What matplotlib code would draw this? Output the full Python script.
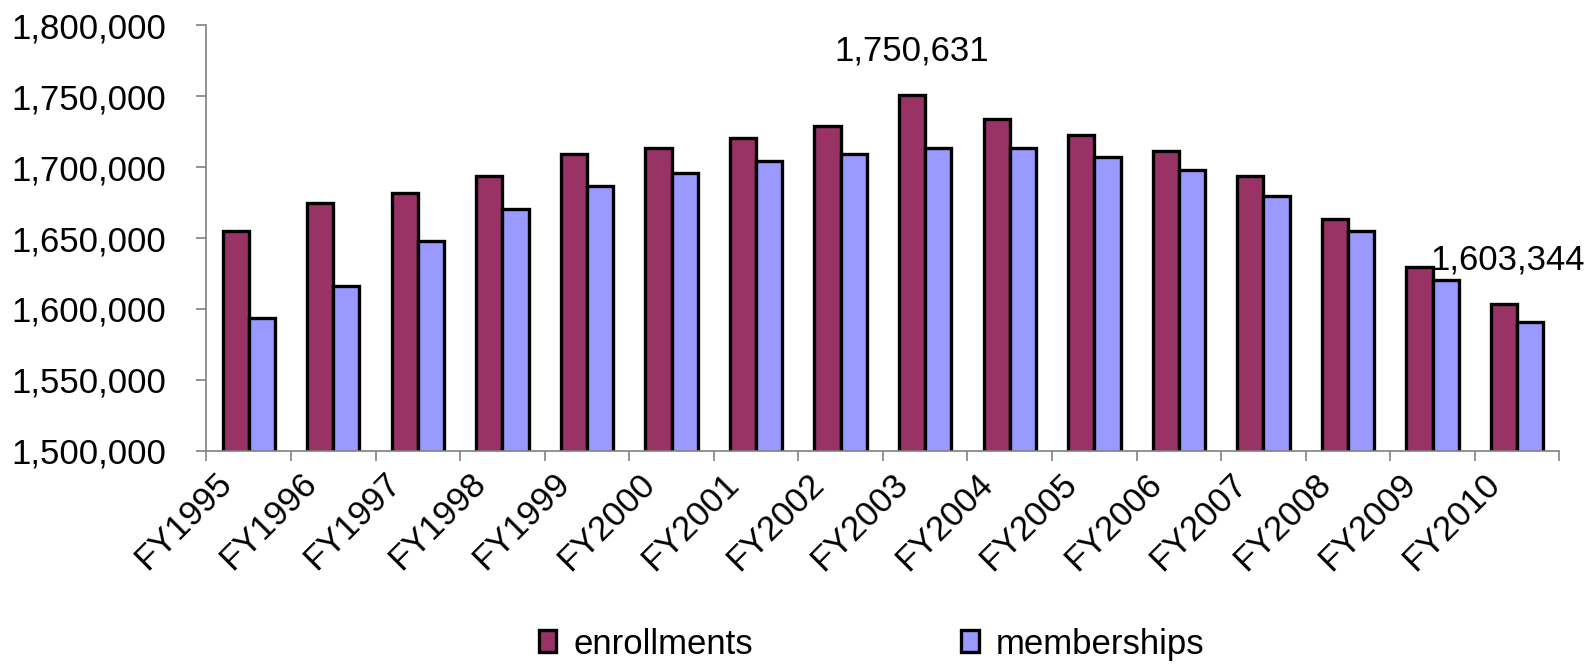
import matplotlib
matplotlib.use('Agg')
import matplotlib.pyplot as plt
import matplotlib.transforms as mtransforms
from matplotlib.ticker import FuncFormatter, MultipleLocator
import numpy as np

plt.rcParams['font.family'] = ['Liberation Sans', 'DejaVu Sans']

years = ['FY1995', 'FY1996', 'FY1997', 'FY1998', 'FY1999', 'FY2000', 'FY2001', 'FY2002',
         'FY2003', 'FY2004', 'FY2005', 'FY2006', 'FY2007', 'FY2008', 'FY2009', 'FY2010']
enrollments = [1654700, 1675000, 1681600, 1693400, 1709000, 1713700, 1720800, 1729300,
               1750631, 1734000, 1722400, 1711600, 1693400, 1663700, 1629900, 1603344]
memberships = [1593400, 1616000, 1647900, 1670300, 1686500, 1695500, 1704300, 1709000,
               1713700, 1713700, 1706800, 1697900, 1679700, 1654700, 1620100, 1591000]
labelled = ['FY2003', 'FY2010']

fig = plt.figure(figsize=(15.88, 6.64), dpi=100)
ax = fig.add_axes([0.130, 0.321, 0.852, 0.641])

x = np.arange(len(years))
w = 0.31
b1 = ax.bar(x - w / 2, enrollments, w, color='#993366', edgecolor='black',
            linewidth=2.4, label='enrollments')
b2 = ax.bar(x + w / 2, memberships, w, color='#9999FF', edgecolor='black',
            linewidth=2.4, label='memberships')

for name in labelled:
    i = years.index(name)
    ax.annotate(f'{enrollments[i]:,}', xy=(x[i] - w / 2, enrollments[i]),
                xytext=(4 if i == len(years) - 1 else 0, 44), textcoords='offset pixels',
                ha='center', va='center', fontsize=25, annotation_clip=False)

ax.set_ylim(1500000, 1800000)
ax.set_xlim(-0.5, len(years) - 0.5)
ax.yaxis.set_major_locator(MultipleLocator(50000))
ax.yaxis.set_major_formatter(FuncFormatter(lambda v, p: f'{int(v):,}'))

# tick marks between categories, labels at the centres
ax.set_xticks(np.arange(len(years) + 1) - 0.5)
ax.set_xticklabels([])
ax.set_xticks(x, minor=True)
ax.set_xticklabels(years, minor=True, rotation=45, ha='right', va='center',
                   rotation_mode='anchor', fontsize=25)
ax.tick_params(axis='x', which='minor', length=0, pad=20)
ax.tick_params(axis='x', which='major', length=7, width=1.2, color='#808080')
ax.tick_params(axis='y', length=7, width=1.2, color='#808080', pad=22, labelsize=25)
shift = mtransforms.ScaledTranslation(-16 / 72, 0, fig.dpi_scale_trans)
for lab in ax.get_xticklabels(minor=True):
    lab.set_transform(lab.get_transform() + shift)

for side in ['top', 'right']:
    ax.spines[side].set_visible(False)
for side in ['left', 'bottom']:
    ax.spines[side].set_color('#808080')
    ax.spines[side].set_linewidth(1.2)

fig.legend(handles=[b1, b2], loc='center', bbox_to_anchor=(0.549, 0.030), ncol=2,
           frameon=False, fontsize=25, handlelength=0.5, handleheight=0.6,
           handletextpad=0.5, columnspacing=6.0)

fig.savefig('out.png', dpi=100)
